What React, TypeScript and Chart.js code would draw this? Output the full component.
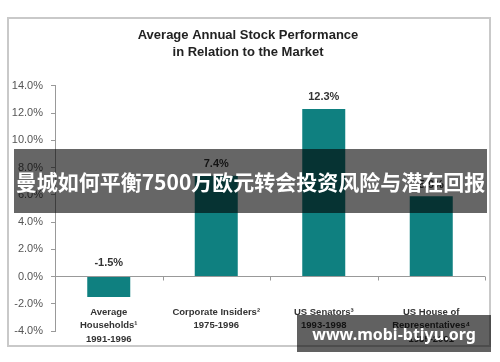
import React, { useEffect, useRef } from "react";
import { Chart, registerables } from "chart.js";

Chart.register(...registerables);

const titleLines = ["Average Annual Stock Performance", "in Relation to the Market"];
const categories = [
  ["Average", "Households¹", "1991-1996"],
  ["Corporate Insiders²", "1975-1996"],
  ["US Senators³", "1993-1998"],
  ["US House of", "Representatives⁴", "1985-2001"],
];
const values = [-1.5, 7.4, 12.3, 5.9];
const valueLabels = ["-1.5%", "7.4%", "12.3%", "5.9%"];
const yMin = -4;
const yMax = 14;
const yStep = 2;
const bannerText = "曼城如何平衡7500万欧元转会投资风险与潜在回报";
const watermarkText = "www.mobi-btiyu.org";

const FONT = "'Liberation Sans', Arial, Helvetica, sans-serif";

const framePlugin = {
  id: "frame",
  beforeDraw(chart: any) {
    const ctx = chart.ctx;
    ctx.save();
    ctx.fillStyle = "#ffffff";
    ctx.fillRect(0, 0, chart.width, chart.height);
    ctx.strokeStyle = "#c9c9c9";
    ctx.lineWidth = 2;
    ctx.strokeRect(8, 18, 482, 328);
    ctx.restore();
  },
};

const extrasPlugin = {
  id: "extras",
  afterDatasetsDraw(chart: any) {
    const ctx = chart.ctx;
    const xs = chart.scales.x;
    const ys = chart.scales.y;
    const zeroY = ys.getPixelForValue(0);
    ctx.save();
    // category boundary ticks on the zero line
    ctx.strokeStyle = "#999";
    ctx.lineWidth = 1;
    const n = categories.length;
    const w = (xs.right - xs.left) / n;
    for (let i = 1; i <= n; i++) {
      const x = Math.round(xs.left + i * w) + 0.5;
      ctx.beginPath();
      ctx.moveTo(x, zeroY);
      ctx.lineTo(x, zeroY + 4);
      ctx.stroke();
    }
    // category labels (multi-line, top aligned)
    ctx.fillStyle = "#333";
    ctx.font = `bold 9.5px ${FONT}`;
    ctx.textAlign = "center";
    ctx.textBaseline = "middle";
    categories.forEach((lines, i) => {
      const x = xs.getPixelForValue(i);
      lines.forEach((line, j) => {
        ctx.fillText(line, x, ys.bottom - 19 + j * 13.5);
      });
    });
    // value labels
    const meta = chart.getDatasetMeta(0);
    ctx.font = `bold 11px ${FONT}`;
    ctx.textBaseline = "bottom";
    meta.data.forEach((bar: any, i: number) => {
      const top = Math.min(bar.y, bar.base);
      const off = values[i] < 0 ? 9 : 6;
      ctx.fillText(valueLabels[i], bar.x, top - off);
    });
    ctx.restore();
  },
};

export default function App() {
  const ref = useRef<HTMLCanvasElement | null>(null);
  useEffect(() => {
    if (!ref.current) return;
    const chart = new Chart(ref.current, {
      type: "bar",
      data: {
        labels: categories.map((c) => c.join(" ")),
        datasets: [
          {
            data: values,
            backgroundColor: "#0f8080",
            borderWidth: 0,
            barPercentage: 0.4,
            categoryPercentage: 1.0,
          },
        ],
      },
      options: {
        responsive: false,
        animation: false,
        devicePixelRatio: 1,
        layout: { padding: { left: 11, right: 15, top: 0, bottom: 31 } },
        plugins: {
          legend: { display: false },
          tooltip: { enabled: false },
          title: {
            display: true,
            text: titleLines,
            color: "#222",
            font: { family: FONT, size: 13, weight: "bold", lineHeight: 1.3 },
            padding: { top: 27, bottom: 25 },
          },
        },
        scales: {
          x: {
            position: "bottom",
            grid: { display: false, drawTicks: false },
            border: { display: false },
            ticks: { display: false },
          },
          y: {
            min: yMin,
            max: yMax,
            afterFit: (scale: any) => {
              scale.width = 44;
            },
            grid: {
              drawOnChartArea: true,
              drawTicks: true,
              tickLength: 4,
              tickColor: "#999",
              color: (c: any) => (c.tick && c.tick.value === 0 ? "#999" : "rgba(0,0,0,0)"),
            },
            border: { display: true, color: "#999" },
            ticks: {
              stepSize: yStep,
              color: "#555",
              padding: 8,
              font: { family: FONT, size: 11 },
              callback: (v: any) => Number(v).toFixed(1) + "%",
            },
          },
        },
      },
      plugins: [framePlugin, extrasPlugin],
    });
    return () => chart.destroy();
  }, []);

  return (
    <div style={{ position: "fixed", left: 0, top: 0, width: 500, height: 362, overflow: "hidden" }}>
      <canvas ref={ref} width={500} height={362} style={{ display: "block" }} />
      <div
        style={{
          position: "absolute",
          left: 14,
          top: 149,
          width: 473,
          height: 64,
          background: "rgba(0,0,0,0.6)",
          color: "#fff",
          display: "flex",
          alignItems: "center",
          justifyContent: "center",
          fontFamily: "'Noto Sans CJK SC', 'Noto Sans', sans-serif",
          fontWeight: 700,
          fontSize: 21,
          whiteSpace: "nowrap",
        }}
      >
        {bannerText}
      </div>
      <div
        style={{
          position: "absolute",
          left: 297,
          top: 315,
          width: 194,
          height: 37,
          background: "rgba(0,0,0,0.62)",
          color: "#fff",
          display: "flex",
          alignItems: "center",
          justifyContent: "center",
          fontFamily: "'Noto Sans', 'Open Sans', sans-serif",
          fontWeight: 700,
          fontSize: 16,
          whiteSpace: "nowrap",
        }}
      >
        {watermarkText}
      </div>
    </div>
  );
}
